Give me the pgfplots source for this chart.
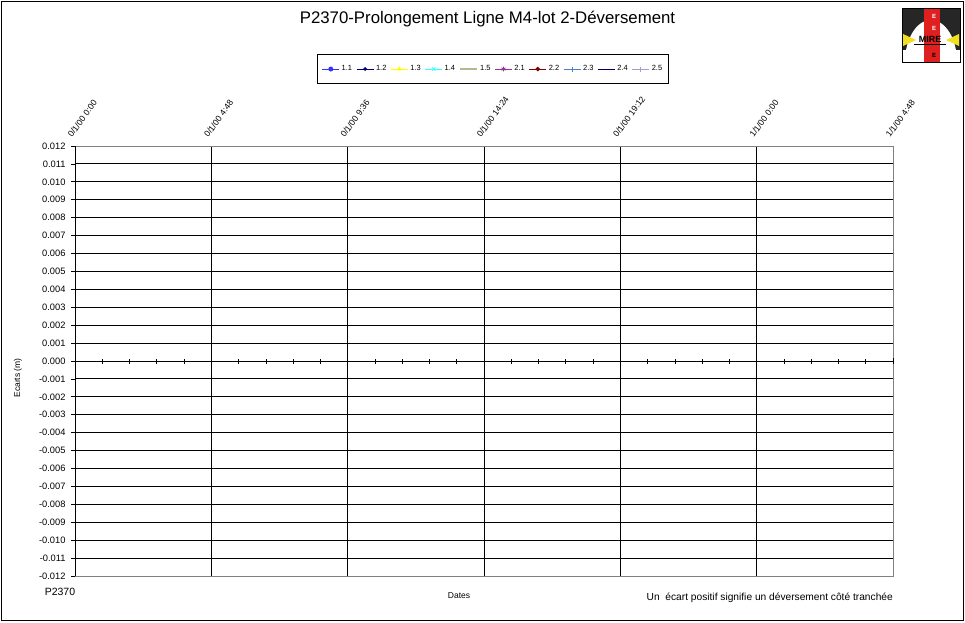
\documentclass[border=0pt]{standalone}
\usepackage{pgfplots}
\pgfplotsset{compat=1.18}
\usepackage{fontspec}
\setmainfont{Liberation Sans}
\definecolor{s11}{HTML}{3333FF}
\definecolor{s12}{HTML}{000080}
\definecolor{s13}{HTML}{FFFF00}
\definecolor{s14}{HTML}{33FFFF}
\definecolor{s15}{HTML}{B8B890}
\definecolor{s21}{HTML}{993399}
\definecolor{s22}{HTML}{800000}
\definecolor{s23}{HTML}{4F7FC0}
\definecolor{s24}{HTML}{000060}
\definecolor{s25}{HTML}{A0A0D0}
\definecolor{frameg}{HTML}{808080}
\definecolor{logored}{HTML}{E02020}
\definecolor{logoyel}{HTML}{F0E020}
\begin{document}
\begin{tikzpicture}[x=1pt,y=1pt]
\path[use as bounding box] (0,0) rectangle (965,622);
\draw[line width=1.6pt] (1.5,1.5) rectangle (963.5,620.5);
% main axis
\begin{axis}[
  at={(75pt,46pt)}, anchor=south west,
  width=818pt, height=430pt, scale only axis,
  xmin=0, xmax=6, ymin=-0.012, ymax=0.012,
  xtick={0,1,2,3,4,5,6},
  xticklabels={0/1/00 0:00, 0/1/00 4:48, 0/1/00 9:36, 0/1/00 14:24, 0/1/00 19:12, 1/1/00 0:00, 1/1/00 4:48},
  xticklabel pos=upper,
  x tick label style={rotate=54, anchor=south west, font=\fontsize{8.6}{9}\selectfont, inner sep=0.5pt, xshift=1pt, yshift=4pt},
  x tick style={draw=none},
  ytick={-0.012,-0.011,-0.010,-0.009,-0.008,-0.007,-0.006,-0.005,-0.004,-0.003,-0.002,-0.001,0,0.001,0.002,0.003,0.004,0.005,0.006,0.007,0.008,0.009,0.010,0.011,0.012},
  scaled y ticks=false,
  yticklabel style={font=\fontsize{9.3}{10}\selectfont, xshift=-2pt, /pgf/number format/.cd, fixed, fixed zerofill, precision=3, assume math mode=true},
  ytick pos=left,
  tick align=outside,
  major tick length=4pt,
  y tick style={black, line width=0.8pt},
  grid=major,
  major grid style={black, line width=0.9pt},
  axis line style={frameg, line width=0.9pt},
  legend columns=10,
  legend style={at={(0.511,1.179)}, anchor=center, draw=black, line width=0.8pt,
    font=\fontsize{7.5}{8}\selectfont, inner xsep=4pt, inner ysep=9pt,
    /tikz/every even column/.append style={column sep=2pt}},
  legend image code/.code={\draw[mark repeat=2,mark phase=2] plot coordinates {(0pt,0pt)(8.5pt,0pt)(17pt,0pt)};},
]
\addlegendimage{s11, line width=0.9pt, mark=*, mark size=2pt}
\addlegendentry{1.1}
\addlegendimage{s12, line width=0.9pt, mark=*, mark size=1.3pt}
\addlegendentry{1.2}
\addlegendimage{s13, line width=0.9pt, mark=triangle*, mark size=2pt}
\addlegendentry{1.3}
\addlegendimage{s14, line width=0.9pt, mark=x, mark size=2.2pt}
\addlegendentry{1.4}
\addlegendimage{s15, line width=2pt, mark=none}
\addlegendentry{1.5}
\addlegendimage{s21, line width=0.9pt, mark=asterisk, mark size=2.3pt}
\addlegendentry{2.1}
\addlegendimage{s22, line width=0.9pt, mark=*, mark size=1.8pt}
\addlegendentry{2.2}
\addlegendimage{s23, line width=0.9pt, mark=+, mark size=2.5pt}
\addlegendentry{2.3}
\addlegendimage{s24, line width=0.9pt, mark=-, mark size=2pt}
\addlegendentry{2.4}
\addlegendimage{s25, line width=0.9pt, mark=+, mark size=2.5pt}
\addlegendentry{2.5}
\draw[black, line width=0.9pt] (rel axis cs:0,0) -- (rel axis cs:0,1);
\end{axis}
% zero line with minor ticks
\begin{axis}[
  at={(75pt,46pt)}, anchor=south west,
  width=818pt, height=430pt, scale only axis,
  xmin=0, xmax=6, ymin=-0.012, ymax=0.012,
  axis x line=middle, axis y line=none,
  x axis line style={-, black, line width=0.9pt},
  xtick={0,1,2,3,4,5,6}, xticklabels={},
  minor x tick num=4,
  tick align=center,
  major tick length=6pt, minor tick length=5pt,
  tick style={black, line width=0.7pt},
]
\end{axis}
% texts
\node at (487.5,603) {\fontsize{16.8}{19}\selectfont P2370-Prolongement Ligne M4-lot 2-Déversement};
\node[rotate=90] at (18,244) {\fontsize{8.5}{9}\selectfont Ecarts (m)};
\node at (459,26) {\fontsize{8.5}{9}\selectfont Dates};
\node at (60,30) {\fontsize{10.5}{12}\selectfont P2370};
\node[anchor=east, inner sep=0pt] at (893,24) {\fontsize{10.2}{11}\selectfont Un\ \ écart positif signifie un déversement côté tranchée};
% logo
\begin{scope}
\fill[white] (902,560) rectangle (960,614);
\clip (902,560) rectangle (960,614);
\fill[black!85] (902,572) rectangle (960,614);
\fill[white] (931,560) ellipse (26pt and 42pt);
\fill[logored] (924,560) rectangle (940,614);
\fill[logoyel] (903,588) -- (916,582) -- (903,576) -- cycle;
\fill[logoyel] (959,588) -- (946,582) -- (959,576) -- cycle;
\node[font=\fontsize{6}{6}\selectfont\bfseries, white] at (934,606) {E};
\node[font=\fontsize{6}{6}\selectfont\bfseries, white] at (934,594) {E};
\node[font=\fontsize{6}{6}\selectfont\bfseries, black] at (934,567) {E};
\node[font=\fontsize{9}{9}\selectfont\bfseries, black, inner sep=0pt] at (930,583) {MIRE};
\draw[black, line width=1pt] (914,577.5) -- (946,577.5);
\end{scope}
\draw[black, line width=0.8pt] (902,560) rectangle (960,614);
\end{tikzpicture}
\end{document}
